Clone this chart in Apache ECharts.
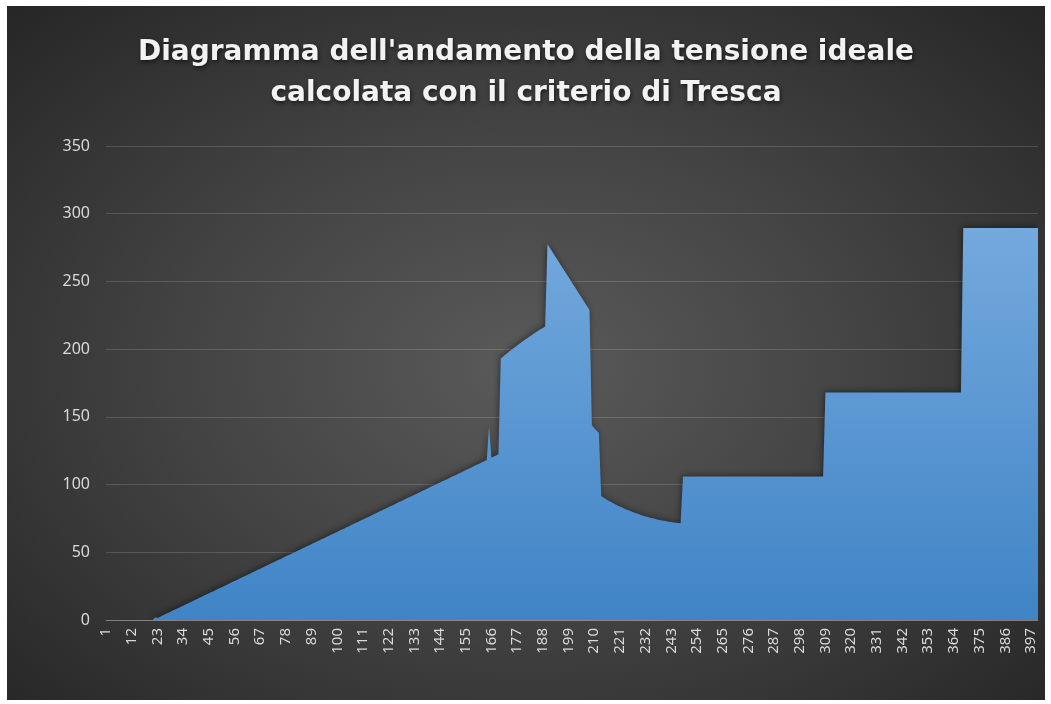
<!DOCTYPE html>
<html lang="it">
<head>
<meta charset="utf-8">
<title>Tensione ideale - criterio di Tresca</title>
<script src="https://cdn.jsdelivr.net/npm/echarts@6/dist/echarts.min.js"></script>
<style>
  html, body { margin: 0; padding: 0; background: #ffffff; }
  #panel {
    position: absolute;
    left: 7px; top: 6px;
    width: 1038px; height: 694px;
    background: radial-gradient(ellipse farthest-corner at 50% 52%, #5a5a5a 0%, #444444 45%, #262626 100%);
  }
  #chart { width: 100%; height: 100%; }
</style>
</head>
<body>
<div id="panel"><div id="chart"></div></div>
<script>
// Sezioni 1..400 lungo la trave
const sezioni = [];
for (let i = 1; i <= 400; i++) sezioni.push(String(i));

// Tensione ideale (Tresca) per tratti
const trattoScarico = [0,0,0,0,0,0,0,0,0,0,0,0,0,0,0,0,0,0,0,0,0];                 // 1-21
const trattoLineare = [                                                            // 22-164
  2.0,1.5,2.3,3.1,4.0,4.8,5.6,6.5,7.3,8.1,8.9,9.8,10.6,11.4,12.2,13.1,13.9,14.7,15.5,16.4,
  17.2,18.0,18.9,19.7,20.5,21.3,22.2,23.0,23.8,24.6,25.5,26.3,27.1,28.0,28.8,29.6,30.4,31.3,32.1,32.9,
  33.7,34.6,35.4,36.2,37.1,37.9,38.7,39.5,40.4,41.2,42.0,42.8,43.7,44.5,45.3,46.1,47.0,47.8,48.6,49.5,
  50.3,51.1,51.9,52.8,53.6,54.4,55.2,56.1,56.9,57.7,58.6,59.4,60.2,61.0,61.9,62.7,63.5,64.3,65.2,66.0,
  66.8,67.6,68.5,69.3,70.1,71.0,71.8,72.6,73.4,74.3,75.1,75.9,76.7,77.6,78.4,79.2,80.1,80.9,81.7,82.5,
  83.4,84.2,85.0,85.8,86.7,87.5,88.3,89.2,90.0,90.8,91.6,92.5,93.3,94.1,94.9,95.8,96.6,97.4,98.3,99.1,
  99.9,100.7,101.6,102.4,103.2,104.0,104.9,105.7,106.5,107.3,108.2,109.0,109.8,110.7,111.5,112.3,113.1,114.0,114.8,115.6,
  116.4,117.3,118.1
];
const trattoPicco = [142.8,119.9,120.7,121.5,122.3];                                 // 165-169
const trattoSalita = [                                                               // 170-189
  193.0,194.6,196.0,197.4,198.8,200.1,201.4,202.7,204.0,205.3,
  206.5,207.7,208.9,210.1,211.3,212.4,213.5,214.6,215.7,216.8
];
const trattoMassimo = [                                                              // 190-208
  277.5,274.8,272.1,269.4,266.7,264.0,261.3,258.6,255.9,253.2,
  250.5,247.8,245.1,242.4,239.7,237.0,234.3,231.6,228.9
];
const trattoGradino = [144.0,141.8,140.0,138.2];                                     // 209-212
const trattoCurvo = [                                                                // 213-247
  91.5,90.4,89.3,88.3,87.3,86.4,85.5,84.6,83.8,83.0,
  82.2,81.5,80.8,80.1,79.4,78.8,78.2,77.6,77.0,76.5,
  76.0,75.5,75.1,74.7,74.3,73.9,73.5,73.2,72.9,72.6,
  72.3,72.0,71.8,71.6,71.4
];
const trattoCostante1 = [                                                            // 248-308
  106,106,106,106,106,106,106,106,106,106,106,106,106,106,106,106,106,106,106,106,
  106,106,106,106,106,106,106,106,106,106,106,106,106,106,106,106,106,106,106,106,
  106,106,106,106,106,106,106,106,106,106,106,106,106,106,106,106,106,106,106,106,
  106
];
const trattoCostante2 = [                                                            // 309-367
  168,168,168,168,168,168,168,168,168,168,168,168,168,168,168,168,168,168,168,168,
  168,168,168,168,168,168,168,168,168,168,168,168,168,168,168,168,168,168,168,168,
  168,168,168,168,168,168,168,168,168,168,168,168,168,168,168,168,168,168,168
];
const trattoCostante3 = [                                                            // 368-400
  289.5,289.5,289.5,289.5,289.5,289.5,289.5,289.5,289.5,289.5,289.5,
  289.5,289.5,289.5,289.5,289.5,289.5,289.5,289.5,289.5,289.5,289.5,
  289.5,289.5,289.5,289.5,289.5,289.5,289.5,289.5,289.5,289.5,289.5
];

const tensione = [].concat(
  trattoScarico, trattoLineare, trattoPicco, trattoSalita, trattoMassimo,
  trattoGradino, trattoCurvo, trattoCostante1, trattoCostante2, trattoCostante3
);

const chart = echarts.init(document.getElementById('chart'), null, { renderer: 'canvas' });

chart.setOption({
  animation: false,
  backgroundColor: 'transparent',
  title: {
    text: "Diagramma dell'andamento della tensione ideale\ncalcolata con il criterio di Tresca",
    left: 'center',
    top: 21,
    textStyle: {
      color: '#f2f2f2',
      fontFamily: 'DejaVu Sans',
      fontWeight: 'bold',
      fontSize: 28,
      lineHeight: 41,
      textShadowColor: 'rgba(0,0,0,0.6)',
      textShadowBlur: 4,
      textShadowOffsetX: 1,
      textShadowOffsetY: 2
    }
  },
  grid: { left: 99, right: 7, top: 140, bottom: 80 },
  xAxis: {
    type: 'category',
    data: sezioni,
    boundaryGap: false,
    axisLine: { show: true, lineStyle: { color: 'rgba(255,255,255,0.28)', width: 1 } },
    axisTick: { show: false },
    axisLabel: {
      interval: 10,
      rotate: 90,
      margin: 8,
      color: '#d9d9d9',
      fontFamily: 'Noto Sans',
      fontSize: 15
    },
    splitLine: { show: false }
  },
  yAxis: {
    type: 'value',
    min: 0,
    max: 350,
    interval: 50,
    axisLine: { show: false },
    axisTick: { show: false },
    axisLabel: {
      margin: 16,
      color: '#d9d9d9',
      fontFamily: 'Noto Sans',
      fontSize: 16
    },
    splitLine: { lineStyle: { color: 'rgba(255,255,255,0.15)', width: 1 } }
  },
  series: [{
    type: 'line',
    data: tensione,
    showSymbol: false,
    lineStyle: { width: 0, opacity: 0 },
    areaStyle: {
      opacity: 1,
      color: new echarts.graphic.LinearGradient(0, 0, 0, 1, [
        { offset: 0, color: '#74a9dd' },
        { offset: 1, color: '#4084c6' }
      ]),
      shadowColor: 'rgba(0,0,0,0.45)',
      shadowBlur: 6,
      shadowOffsetX: -1,
      shadowOffsetY: -1
    }
  }]
});
</script>
</body>
</html>
